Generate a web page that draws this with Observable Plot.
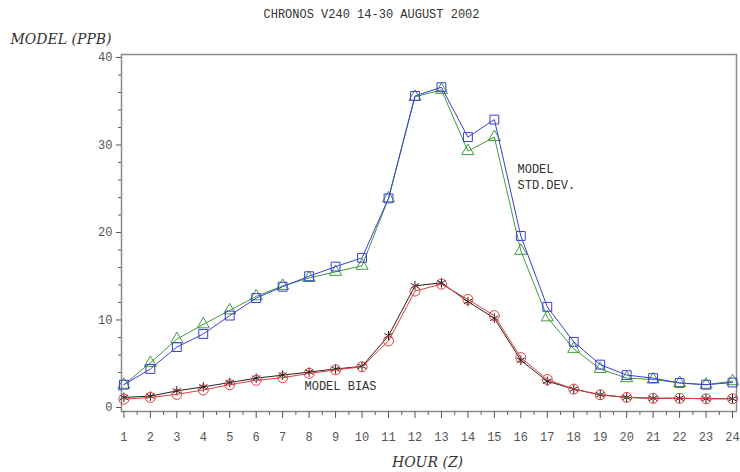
<!DOCTYPE html>
<html>
<head>
<meta charset="utf-8">
<script src="https://cdn.jsdelivr.net/npm/d3@7"></script>
<script src="https://cdn.jsdelivr.net/npm/@observablehq/plot@0.6"></script>
<style>
  html, body { margin: 0; padding: 0; background: #fff; }
  #chart { width: 740px; height: 472px; }
</style>
</head>
<body>
<div id="chart"></div>
<script>
const title = "CHRONOS V240 14-30 AUGUST 2002";
const yLabel = "MODEL (PPB)";
const xLabel = "HOUR (Z)";
const hours = [1,2,3,4,5,6,7,8,9,10,11,12,13,14,15,16,17,18,19,20,21,22,23,24];
const yTicks = [0, 10, 20, 30, 40];
const yMinorTicks = [2,4,6,8,12,14,16,18,22,24,26,28,32,34,36,38];
const xMinorTicks = [1.5,2.5,3.5,4.5,5.5,6.5,7.5,8.5,9.5,10.5,11.5,12.5,13.5,14.5,15.5,16.5,17.5,18.5,19.5,20.5,21.5,22.5,23.5];

// standard deviation pair
const stdSquare   = [2.6, 4.4, 6.9, 8.4, 10.5, 12.5, 13.8, 15.0, 16.1, 17.1, 23.9, 35.6, 36.6, 30.9, 32.9, 19.6, 11.5, 7.5, 4.9, 3.7, 3.35, 2.8, 2.6, 2.85];
const stdTriangle = [2.6, 5.1, 7.8, 9.5, 11.1, 12.7, 13.9, 14.8, 15.5, 16.2, 23.9, 35.5, 36.3, 29.3, 30.9, 17.9, 10.3, 6.7, 4.4, 3.35, 3.2, 2.8, 2.6, 3.0];
// bias pair
const biasStar    = [1.15, 1.3, 1.9, 2.35, 2.85, 3.35, 3.7, 4.05, 4.4, 4.7, 8.2, 13.9, 14.25, 12.1, 10.2, 5.4, 3.0, 2.1, 1.45, 1.15, 1.05, 1.05, 1.0, 1.0];
const biasCircle  = [0.95, 1.15, 1.5, 2.0, 2.6, 3.1, 3.4, 3.9, 4.3, 4.65, 7.6, 13.3, 14.1, 12.35, 10.5, 5.7, 3.2, 2.1, 1.45, 1.15, 1.05, 1.05, 1.0, 1.0];

const seriesDefs = [
  {name: "stdTriangle", values: stdTriangle, color: "#3f9a3f", symbol: "triangle", r: 4.5},
  {name: "stdSquare",   values: stdSquare,   color: "#3c3cdc", symbol: "square",   r: 5},
  {name: "biasStar",    values: biasStar,    color: "#222222", symbol: "asterisk", r: 4.5},
  {name: "biasCircle",  values: biasCircle,  color: "#e23c3c", symbol: "circle",   r: 5}
];

const marks = [];
marks.push(Plot.frame({stroke: "#8a8a8a", strokeWidth: 1.5}));
marks.push(Plot.axisY(yTicks, {tickSize: 5, tickPadding: 4, color: "#555", label: null, fontSize: 12}));
marks.push(Plot.axisY(yMinorTicks, {tickSize: 3, text: null, color: "#666", label: null}));
marks.push(Plot.axisX(hours, {tickSize: 7, tickPadding: 14, color: "#555", label: null, fontSize: 12}));
marks.push(Plot.axisX(xMinorTicks, {tickSize: 4, text: null, color: "#666", label: null}));

for (const s of seriesDefs) {
  const rows = hours.map((h, i) => ({hour: h, value: s.values[i]}));
  marks.push(Plot.line(rows, {x: "hour", y: "value", stroke: s.color, strokeWidth: 1}));
  marks.push(Plot.dot(rows, {x: "hour", y: "value", stroke: s.color, fill: "none", symbol: s.symbol, r: s.r, strokeWidth: 1}));
}

marks.push(Plot.text([title], {frameAnchor: "top-left", dx: 250, dy: -40, textAnchor: "middle", lineAnchor: "middle", fill: "#333", fontSize: 12}));
marks.push(Plot.text([yLabel], {frameAnchor: "top-left", dx: -111, dy: -15, textAnchor: "start", lineAnchor: "middle", fill: "#333", fontSize: 14, fontStyle: "italic", fontFamily: "'DejaVu Serif', serif"}));
marks.push(Plot.text([xLabel], {frameAnchor: "bottom-left", dx: 306, dy: 51, textAnchor: "middle", lineAnchor: "middle", fill: "#333", fontSize: 14, fontStyle: "italic", fontFamily: "'DejaVu Serif', serif"}));
marks.push(Plot.text(["MODEL BIAS"], {frameAnchor: "top-left", dx: 219, dy: 332, textAnchor: "middle", lineAnchor: "middle", fill: "#333", fontSize: 12}));
marks.push(Plot.text(["MODEL\nSTD.DEV."], {frameAnchor: "top-left", dx: 396, dy: 121, textAnchor: "start", lineAnchor: "middle", fill: "#333", fontSize: 12, lineHeight: 1.35}));

const chart = Plot.plot({
  width: 740,
  height: 472,
  marginLeft: 121,
  marginRight: 4,
  marginTop: 54,
  marginBottom: 61,
  x: {domain: [0.91, 24.15]},
  y: {domain: [-0.46, 40.34]},
  style: {fontFamily: "'Liberation Mono', 'DejaVu Sans Mono', monospace", fontSize: "12px", background: "#fff", color: "#333"},
  marks
});
document.getElementById("chart").appendChild(chart);
</script>
</body>
</html>
